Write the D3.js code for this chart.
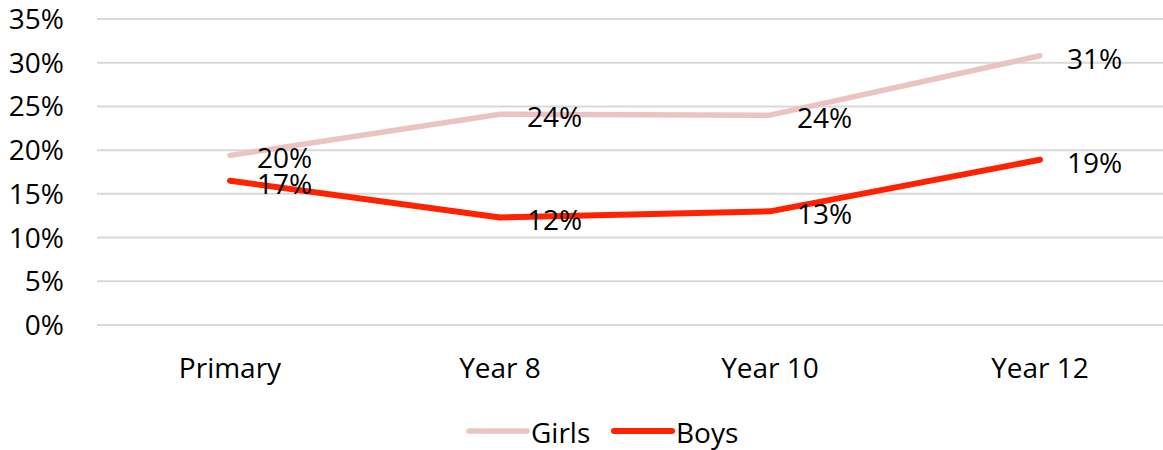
<!DOCTYPE html>
<html><head><meta charset="utf-8">
<script src="https://cdn.jsdelivr.net/npm/d3@7"></script>
<style>body{margin:0;background:#fff;} svg{display:block;font-family:"Open Sans",sans-serif;}</style>
</head><body>
<svg id="c" width="1163" height="450"></svg>
<script>
const categories = ["Primary","Year 8","Year 10","Year 12"];
const girls = [19.4, 24.1, 24.0, 30.8];
const boys = [16.5, 12.3, 13.0, 18.9];
const girlsLabels = ["20%","24%","24%","31%"];
const boysLabels = ["17%","12%","13%","19%"];
const yTicks = [0,5,10,15,20,25,30,35];
const seriesNames = ["Girls","Boys"];
const colors = ["#EAC3C2","#FF2200"];

const svg = d3.select("#c");
const x = d3.scalePoint().domain(categories).range([230, 1040]);
const y = d3.scaleLinear().domain([0,35]).range([325, 19]);

// gridlines
svg.append("g").selectAll("line").data(yTicks).join("line")
  .attr("x1",97).attr("x2",1163)
  .attr("y1",d=>y(d)).attr("y2",d=>y(d))
  .attr("stroke","#d9d9d9").attr("stroke-width",2);

// y labels
svg.append("g").selectAll("text").data(yTicks).join("text")
  .attr("x",64).attr("y",d=>y(d)+10)
  .attr("text-anchor","end").attr("font-size",28).attr("fill","#000")
  .text(d=>d+"%");

// x labels
svg.append("g").selectAll("text").data(categories).join("text")
  .attr("x",d=>x(d)).attr("y",378)
  .attr("text-anchor","middle").attr("font-size",28).attr("fill","#000")
  .text(d=>d);

const line = d3.line().x((d,i)=>x(categories[i])).y(d=>y(d));
[girls, boys].forEach((s,k)=>{
  svg.append("path").datum(s).attr("d",line)
    .attr("fill","none").attr("stroke",colors[k])
    .attr("stroke-width",k===0?5.5:6).attr("stroke-linecap","round").attr("stroke-linejoin","round");
});
[[girls,girlsLabels],[boys,boysLabels]].forEach(([s,l])=>{
  svg.append("g").selectAll("text").data(s).join("text")
    .attr("x",(d,i)=>x(categories[i])+27).attr("y",(d,i)=>y(d)+13)
    .attr("font-size",28).attr("fill","#000")
    .text((d,i)=>l[i]);
});

// legend
const legX = [469, 614];
seriesNames.forEach((n,k)=>{
  svg.append("line").attr("x1",legX[k]).attr("x2",legX[k]+58)
    .attr("y1",431).attr("y2",431).attr("stroke",colors[k])
    .attr("stroke-width",k===0?5.5:6).attr("stroke-linecap","round");
  svg.append("text").attr("x",legX[k]+62).attr("y",443)
    .attr("font-size",28).attr("fill","#000").text(n);
});
</script>
</body></html>
